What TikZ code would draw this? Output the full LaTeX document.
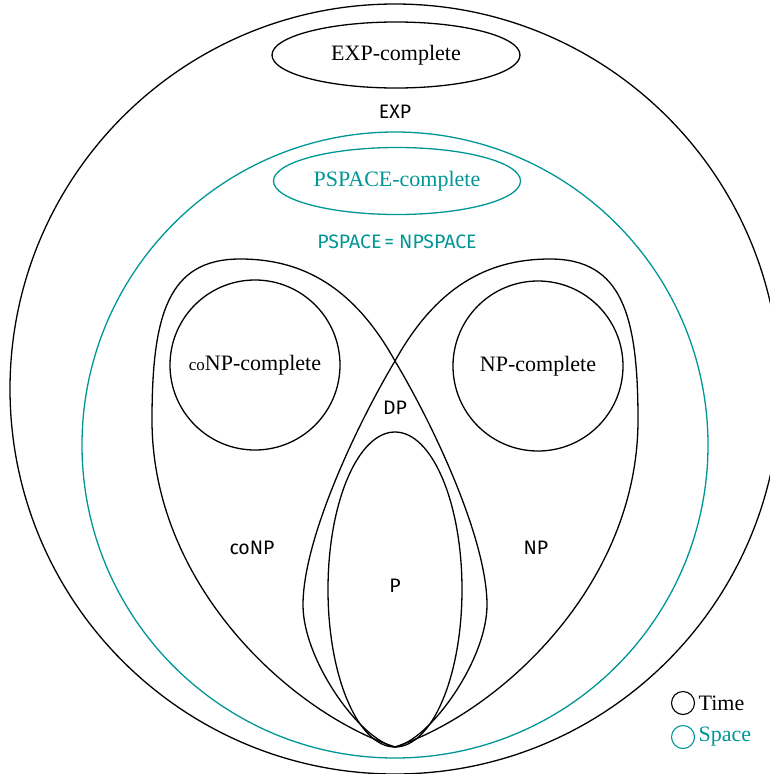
\documentclass[tikz,border=0pt]{standalone}
\usepackage{fontspec}
\setmainfont{Liberation Serif}
\newfontfamily\labelfont{Fira Sans}
\usetikzlibrary{shapes.geometric}
\definecolor{spacecol}{RGB}{0,150,150}
\begin{document}
\begin{tikzpicture}[x=1pt,y=-1pt,line width=1.3pt,
  classname/.style={font=\labelfont\fontsize{19.5}{23}\selectfont},
  completename/.style={font=\fontsize{22}{26}\selectfont},
  keyname/.style={font=\fontsize{22}{26}\selectfont,anchor=west,inner sep=0pt},
  region/.style={draw,inner sep=0pt},
  spaceregion/.style={region,draw=spacecol,text=spacecol},
  keyring/.style={circle,draw,line width=1.1pt,minimum size=23pt,inner sep=0pt}]
\useasboundingbox (0,0) rectangle (770,774);
\clip (0,0) rectangle (770,774);

% time classes: EXP
\node[region,circle,minimum size=770pt] (exp) at (395,389) {};
\node[region,ellipse,minimum width=248pt,minimum height=66pt,completename] (expc) at (396,55) {EXP-complete};
\node[classname] (explabel) at (395,112) {EXP};

% space classes
\node[spaceregion,circle,minimum size=626pt] (pspace) at (395,445) {};
\node[spaceregion,ellipse,minimum width=247pt,minimum height=67pt,completename] (pspacec) at (397,181) {PSPACE-complete};
\node[classname,text=spacecol] (pspacelabel) at (397,242) {PSPACE\kern3pt=\kern5pt NPSPACE};

% coNP lobe; the NP lobe is its mirror image, both meet at the bottom
\coordinate (bot) at (395,747);
\def\lobe{(bot) .. controls (290,712) and (152,585) .. (152,420)
  .. controls (152,315) and (168,259) .. (240,259)
  .. controls (295,259) and (350,280) .. (395,361)
  .. controls (435,428) and (487,540) .. (487,605)
  .. controls (487,660) and (430,740) .. (bot)}
\draw \lobe;
\begin{scope}[shift={(790,0)},xscale=-1]
\draw \lobe;
\end{scope}

\node[region,circle,minimum size=170pt,completename] (conpc) at (255,365) {{\fontsize{17}{20}\selectfont co}NP-complete};
\node[region,circle,minimum size=170pt,completename] (npc) at (538,366) {NP-complete};

\node[classname] (conplabel) at (252,548) {coNP};
\node[classname] (nplabel) at (536,548) {NP};
\node[classname] (dplabel) at (395,408) {DP};

% P
\node[region,ellipse,minimum width=134pt,minimum height=315pt] (p) at (395,589.5) {};
\node[classname] (plabel) at (395,586) {P};

% key
\node[keyring] (timekey) at (683,703) {};
\node[keyname] (timetext) at (698,703) {Time};
\node[keyring,draw=spacecol] (spacekey) at (683,737) {};
\node[keyname,text=spacecol] (spacetext) at (698,737) {Space};
\end{tikzpicture}
\end{document}
